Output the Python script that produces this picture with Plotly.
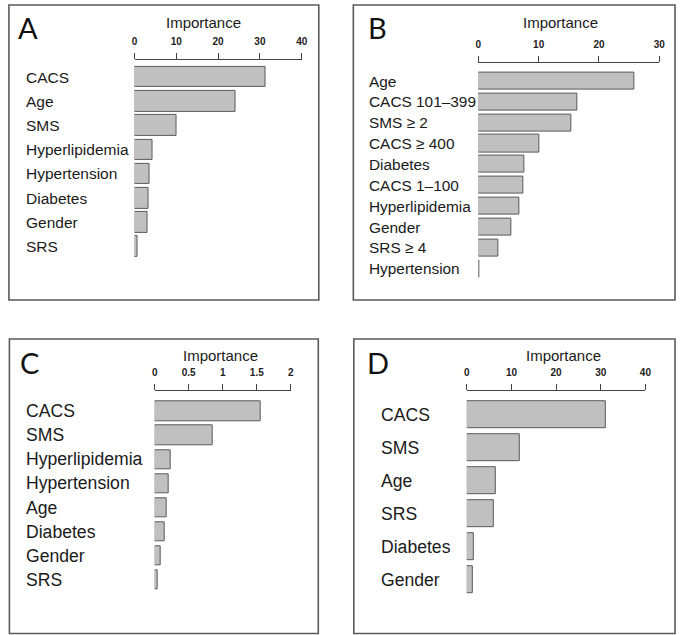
import plotly.graph_objects as go

W, H = 683, 635

# ---- data ----
a_labels = ["CACS", "Age", "SMS", "Hyperlipidemia", "Hypertension", "Diabetes", "Gender", "SRS"]
a_values = [31.3, 24.2, 10.0, 4.3, 3.7, 3.4, 3.2, 0.7]

b_labels = ["Age", "CACS 101\u2013399", "SMS \u2265 2", "CACS \u2265 400", "Diabetes",
            "CACS 1\u2013100", "Hyperlipidemia", "Gender", "SRS \u2265 4", "Hypertension"]
b_values = [25.9, 16.5, 15.5, 10.1, 7.7, 7.5, 6.8, 5.4, 3.3, 0.2]

c_labels = ["CACS", "SMS", "Hyperlipidemia", "Hypertension", "Age", "Diabetes", "Gender", "SRS"]
c_values = [1.55, 0.85, 0.23, 0.20, 0.17, 0.15, 0.087, 0.043]

d_labels = ["CACS", "SMS", "Age", "SRS", "Diabetes", "Gender"]
d_values = [31.1, 11.9, 6.5, 6.0, 1.55, 1.4]

a_ticks = [0, 10, 20, 30, 40]
b_ticks = [0, 10, 20, 30]
c_ticks = [0, 0.5, 1, 1.5, 2]
c_ticktext = ["0", "0.5", "1", "1.5", "2"]
d_ticks = [0, 10, 20, 30, 40]


def px_x(p):
    return p / W


def px_y(p):
    return 1 - p / H


# layout geometry per panel (pixels)
panels = [
    dict(letter="A", labels=a_labels, values=a_values, ticks=a_ticks, ticktext=None,
         xr=(133.3, 302.7), yr=(64.9, 258.8), box=(6, 5, 320, 300), lab_x=21, lab_size=15.5,
         letter_xy=(13.5, 27), title_xy=(203, 22), axis_y=59.3, width=0.85),
    dict(letter="B", labels=b_labels, values=b_values, ticks=b_ticks, ticktext=None,
         xr=(481.7, 665.0), yr=(70.6, 279.2), box=(355, 5, 681, 300), lab_x=369, lab_size=15.4,
         letter_xy=(367.5, 27), title_xy=(565, 22), axis_y=61.7, width=0.82),
    dict(letter="C", labels=c_labels, values=c_values, ticks=c_ticks, ticktext=c_ticktext,
         xr=(153.7, 291.7), yr=(399.3, 591.7), box=(6.5, 339, 319.5, 633.5), lab_x=21, lab_size=17.6,
         letter_xy=(15, 362.5), title_xy=(220, 355), axis_y=390, width=0.80),
    dict(letter="D", labels=d_labels, values=d_values, ticks=d_ticks, ticktext=None,
         xr=(470.0, 651.0), yr=(398.2, 596.2), box=(355.5, 339, 681, 633.5), lab_x=381.5, lab_size=17.6,
         letter_xy=(366.5, 362.5), title_xy=(568, 355), axis_y=390, width=0.83),
]

fig = go.Figure()
shapes = []
annotations = []
LABEL_FONT = "Arial"

for i, p in enumerate(panels, start=1):
    xa = "x" if i == 1 else f"x{i}"
    ya = "y" if i == 1 else f"y{i}"
    n = len(p["labels"])
    fig.add_trace(go.Bar(
        x=p["values"], y=p["labels"], orientation="h",
        xaxis=xa, yaxis=ya, width=p["width"],
        marker=dict(color="#c0c0c0", line=dict(color="#5a5a5a", width=1)),
        showlegend=False, hoverinfo="x+y",
    ))
    xmax = p["ticks"][-1]
    fig.layout[f"xaxis{'' if i == 1 else i}"] = dict(
        domain=[px_x(p["xr"][0]), px_x(p["xr"][1])],
        anchor="free", position=px_y(p["axis_y"]), side="top", range=[0, xmax],
        tickvals=p["ticks"], ticktext=p["ticktext"] if p["ticktext"] else [str(t) for t in p["ticks"]],
        ticks="outside", ticklen=6, tickwidth=1, tickcolor="#444444",
        showline=True, linecolor="#444444", linewidth=1,
        showgrid=False, zeroline=False, fixedrange=True,
        tickfont=dict(family=LABEL_FONT, size=10, color="#222222", weight="bold"),
        ticklabelstandoff=4,
    )
    fig.layout[f"yaxis{'' if i == 1 else i}"] = dict(
        domain=[px_y(p["yr"][1]), px_y(p["yr"][0])],
        anchor=xa, type="category", categoryorder="array", categoryarray=p["labels"],
        range=[n - 0.5, -0.5], showticklabels=False, showline=False,
        showgrid=False, zeroline=False, ticks="", fixedrange=True,
    )
    # panel frame
    x0, y0, x1, y1 = p["box"]
    shapes.append(dict(type="rect", xref="paper", yref="paper",
                       x0=px_x(x0), x1=px_x(x1), y0=px_y(y1), y1=px_y(y0),
                       line=dict(color="#5a5a5a", width=1.6)))
    # row labels, left aligned
    for lab in p["labels"]:
        annotations.append(dict(x=px_x(p["lab_x"]), xref="paper", xanchor="left",
                                y=lab, yref=ya, yanchor="middle", text=lab, showarrow=False,
                                font=dict(family=LABEL_FONT, size=p["lab_size"], color="#1a1a1a")))
    # axis heading
    annotations.append(dict(x=px_x(p["title_xy"][0]), y=px_y(p["title_xy"][1]),
                            xref="paper", yref="paper", xanchor="center", yanchor="middle",
                            text="Importance", showarrow=False,
                            font=dict(family=LABEL_FONT, size=15, color="#1a1a1a")))
    # panel letter
    annotations.append(dict(x=px_x(p["letter_xy"][0]), y=px_y(p["letter_xy"][1]),
                            xref="paper", yref="paper", xanchor="left", yanchor="middle",
                            text=p["letter"], showarrow=False,
                            font=dict(family="Lato, sans-serif", size=29, color="#111111")))

fig.update_layout(
    width=W, height=H,
    margin=dict(l=0, r=0, t=0, b=0),
    paper_bgcolor="white", plot_bgcolor="rgba(0,0,0,0)",
    shapes=shapes, annotations=annotations,
    bargap=0,
)

fig.write_html("out.html")
